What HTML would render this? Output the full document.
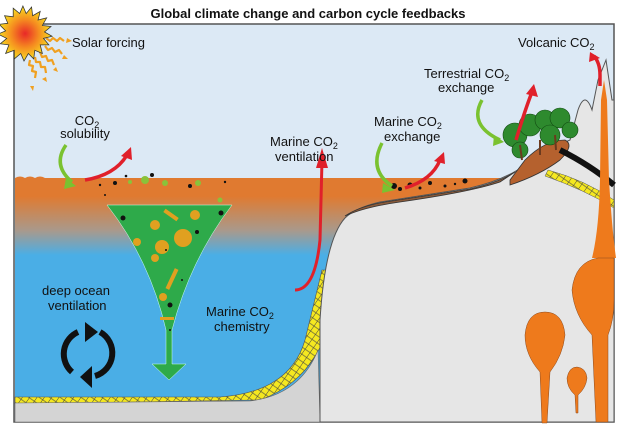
<!DOCTYPE html>
<html><head><meta charset="utf-8"><style>
body{margin:0;background:#fff;}
svg{display:block;font-family:"Liberation Sans","DejaVu Sans",sans-serif;}
</style></head><body>
<svg width="617" height="424" viewBox="0 0 617 424" xmlns="http://www.w3.org/2000/svg">
<defs>
<linearGradient id="sea" x1="0" y1="0" x2="0" y2="1">
<stop offset="0" stop-color="#e07a30"/>
<stop offset="0.08" stop-color="#e07a30"/>
<stop offset="0.22" stop-color="#a9998c"/>
<stop offset="0.32" stop-color="#4aaee6"/>
<stop offset="1" stop-color="#4aaee6"/>
</linearGradient>
<radialGradient id="sun"><stop offset="0" stop-color="#e82828"/><stop offset="0.5" stop-color="#f58a20"/><stop offset="1" stop-color="#f8e020"/></radialGradient>
<pattern id="hatch" width="6" height="6" patternUnits="userSpaceOnUse" patternTransform="rotate(35)">
<rect width="6" height="6" fill="#f5e820"/>
<line x1="0" y1="0" x2="0" y2="6" stroke="#444" stroke-width="1"/>
<line x1="0" y1="3" x2="6" y2="3" stroke="#444" stroke-width="0.6"/>
</pattern>
</defs>
<rect x="14" y="24" width="600" height="398" fill="#dce9f5" stroke="#555" stroke-width="1.5"/>
<path d="M15 178 Q20 175 25 178 Q30 175 35 178 Q40 175 45 178 L520 178 L520 422 L15 422 Z" fill="url(#sea)"/>
<path d="M15 397 L220 397 Q290 392 305 340 L322 270 L330 270 L330 320 Q315 380 260 400 L15 404 Z" fill="url(#hatch)" stroke="#555" stroke-width="0.6"/>
<path d="M15 403 L250 401 Q300 395 318 350 L320 422 L15 422 Z" fill="#d4d4d4" stroke="#666" stroke-width="0.6"/>
<path d="M320 422 L320 320 Q325 240 345 218 Q355 208 380 202 L470 188 Q505 180 525 165 Q545 150 570 140 L578 110 Q585 90 592 110 L598 80 L606 60 L612 100 L614 100 L614 422 Z" fill="#e6e6e6" stroke="#555" stroke-width="1"/>
<path d="M345 216 Q360 206 385 202 L470 189 Q500 182 515 172 L500 182 Q470 192 400 202 Q365 207 345 216 Z" fill="#8a5a3a" stroke="#333" stroke-width="0.8"/>
<g fill="#111"><circle cx="394" cy="186" r="3"/><circle cx="400" cy="189" r="2"/><circle cx="410" cy="185" r="2.5"/><circle cx="420" cy="188" r="1.5"/><circle cx="430" cy="183" r="2"/><circle cx="445" cy="186" r="1.5"/><circle cx="455" cy="184" r="1.2"/><circle cx="465" cy="181" r="2.5"/></g>
<path d="M510 180 L525 160 Q545 140 565 140 Q575 145 560 160 Q540 175 510 185 Z" fill="#b5612e" stroke="#333" stroke-width="0.8"/>
<path d="M560 150 Q590 165 614 185" stroke="#111" stroke-width="6" fill="none"/>
<path d="M548 170 Q585 180 614 200 L614 208 Q585 190 545 176 Z" fill="url(#hatch)" stroke="#555" stroke-width="0.5"/>
<!-- volcano conduit and plumes -->
<path d="M601 100 L604 80 L607 100 L609 180 Q612 230 616 258 L592 258 Q599 230 600 180 Z" fill="#ee7a1c"/>
<path d="M598 258 Q575 262 572 290 Q574 315 592 335 L596 422 L608 422 L608 335 Q614 320 614 300 L614 258 Z" fill="#ee7a1c" stroke="#8a4a20" stroke-width="0.5"/>
<path d="M542 423 L540 372 Q525 355 525 335 Q527 312 545 312 Q563 312 565 335 Q563 355 550 372 L547 423 Z" fill="#ee7a1c" stroke="#8a4a20" stroke-width="0.5"/>
<path d="M576 413 L575 395 Q567 388 567 378 Q569 367 577 367 Q586 368 587 378 Q586 388 578 395 L578 413 Z" fill="#ee7a1c" stroke="#8a4a20" stroke-width="0.5"/>
<g fill="#2e8a2e" stroke="#114a11" stroke-width="0.6">
<circle cx="515" cy="135" r="12"/><circle cx="530" cy="125" r="11"/><circle cx="545" cy="120" r="10"/><circle cx="560" cy="118" r="10"/><circle cx="550" cy="135" r="10"/><circle cx="570" cy="130" r="8"/><circle cx="520" cy="150" r="8"/>
</g>
<g stroke="#6b3a1e" stroke-width="2"><line x1="520" y1="145" x2="522" y2="160"/><line x1="540" y1="140" x2="540" y2="155"/><line x1="555" y1="135" x2="556" y2="150"/></g>
<path d="M107 205 L232 205 Q190 260 172 330 L172 364 L186 364 L169 380 L152 364 L166 364 L166 330 Q150 260 107 205 Z" fill="#2eaa4a" stroke="#cfe" stroke-width="0.5"/>
<g fill="#e0a020"><circle cx="155" cy="225" r="5"/><circle cx="162" cy="247" r="7"/><circle cx="183" cy="238" r="9"/><circle cx="195" cy="215" r="5"/><circle cx="137" cy="242" r="4"/><circle cx="155" cy="258" r="4"/><circle cx="163" cy="297" r="4"/><rect x="170" y="268" width="4" height="22" transform="rotate(25 172 279)"/><rect x="163" y="213" width="16" height="4" transform="rotate(35 171 215)"/><rect x="160" y="317" width="14" height="3"/></g>
<g fill="#111"><circle cx="123" cy="218" r="2.5"/><circle cx="221" cy="213" r="2.5"/><circle cx="197" cy="232" r="2"/><circle cx="170" cy="305" r="2.5"/><circle cx="166" cy="250" r="1"/><circle cx="182" cy="280" r="1"/><circle cx="170" cy="330" r="1"/></g>
<g fill="#111"><circle cx="115" cy="183" r="2"/><circle cx="100" cy="185" r="1.2"/><circle cx="152" cy="175" r="2"/><circle cx="126" cy="176" r="1.3"/><circle cx="190" cy="186" r="2"/><circle cx="225" cy="182" r="1.2"/><circle cx="105" cy="195" r="1"/></g>
<g fill="#8ac23a"><circle cx="145" cy="180" r="4"/><circle cx="165" cy="183" r="3"/><circle cx="198" cy="183" r="3"/><circle cx="130" cy="182" r="2"/><circle cx="220" cy="200" r="2.5"/></g>
<path d="M295 290 Q315 290 320 240 L322 160" stroke="#e0202a" stroke-width="3" fill="none"/>
<path d="M316 168 L322 148 L328 168 Z" fill="#e0202a"/>
<g fill="none" stroke-width="3.5">
<path d="M66 145 Q52 165 72 182" stroke="#7ac230"/>
<path d="M85 180 Q115 175 127 155" stroke="#e0202a"/>
<path d="M382 143 Q368 170 392 186" stroke="#7ac230"/>
<path d="M405 188 Q432 180 440 160" stroke="#e0202a"/>
<path d="M482 100 Q468 125 500 140" stroke="#7ac230"/>
<path d="M516 140 Q525 110 532 92" stroke="#e0202a"/>
<path d="M600 86 L600 75 Q600 63 594 56" stroke="#e0202a"/>
</g>
<g>
<path d="M66 178 L76 186 L64 189 Z" fill="#7ac230"/>
<path d="M121 156 L131 147 L132 160 Z" fill="#e0202a"/>
<path d="M383 183 L395 190 L382 193 Z" fill="#7ac230"/>
<path d="M434 161 L444 152 L445 164 Z" fill="#e0202a"/>
<path d="M494 135 L504 142 L493 146 Z" fill="#7ac230"/>
<path d="M526 94 L534 84 L538 97 Z" fill="#e0202a"/>
<path d="M589 62 L590 52 L600 58 Z" fill="#e0202a"/>
</g>
<g fill="none" stroke="#111" stroke-width="6">
<path d="M78 332 A24 24 0 0 0 72 372"/>
<path d="M100 332 A24 24 0 0 1 95 376"/>
</g>
<path d="M85 322 L98 332 L85 342 Z" fill="#111"/><path d="M92 366 L80 377 L92 388 Z" fill="#111"/>
<!-- sun rays -->
<g stroke="#f0a020" stroke-width="2.2" fill="none" stroke-linejoin="round">
<path d="M46 38 l4 3 l3 -3 l4 3 l3 -3 l4 3"/>
<path d="M45 46 l3 4 l4 -2 l3 4 l4 -2 l3 4"/>
<path d="M40 52 l2 5 l4 -1 l2 5 l4 -1 l2 5"/>
<path d="M35 57 l1 5 l4 0 l1 5 l4 0 l1 6"/>
<path d="M30 60 l-1 5 l4 1 l-1 5 l4 1 l-1 6"/>
</g>
<g fill="#f0a020"><path d="M67 38 l5 3 l-6 2 Z"/><path d="M64 55 l4 4 l-6 0 Z"/><path d="M56 67 l2 5 l-5 -2 Z"/><path d="M46 77 l1 5 l-5 -3 Z"/><path d="M34 86 l-1 5 l-3 -5 Z"/></g>
<g transform="translate(24 33) scale(1.08) translate(-28 -27)">
<polygon points="27,2 30,9 35,3 36,11 43,7 41,15 49,13 45,20 53,21 47,26 54,30 46,32 51,38 43,38 45,46 38,43 37,51 32,46 28,53 25,46 19,51 19,43 11,46 14,38 6,37 12,32 4,28 11,25 5,19 13,18 10,11 18,12 18,4 24,9" fill="url(#sun)" stroke="#333" stroke-width="0.7"/>
</g>
<text x="308" y="18" text-anchor="middle" font-size="13" font-weight="bold" fill="#111">Global climate change and carbon cycle feedbacks</text>
<g font-size="13" fill="#111">
<text x="72" y="47">Solar forcing</text>
<text x="518" y="47">Volcanic CO<tspan font-size="9" dy="3">2</tspan></text>
<text x="424" y="78">Terrestrial CO<tspan font-size="9" dy="3">2</tspan></text>
<text x="438" y="92">exchange</text>
<text x="87" y="125" text-anchor="middle">CO<tspan font-size="9" dy="3">2</tspan></text>
<text x="85" y="138" text-anchor="middle">solubility</text>
<text x="374" y="126">Marine CO<tspan font-size="9" dy="3">2</tspan></text>
<text x="384" y="141">exchange</text>
<text x="270" y="146">Marine CO<tspan font-size="9" dy="3">2</tspan></text>
<text x="275" y="161">ventilation</text>
<text x="42" y="295">deep ocean</text>
<text x="48" y="310">ventilation</text>
<text x="206" y="316">Marine CO<tspan font-size="9" dy="3">2</tspan></text>
<text x="214" y="331">chemistry</text>
</g>
</svg>
</body></html>
